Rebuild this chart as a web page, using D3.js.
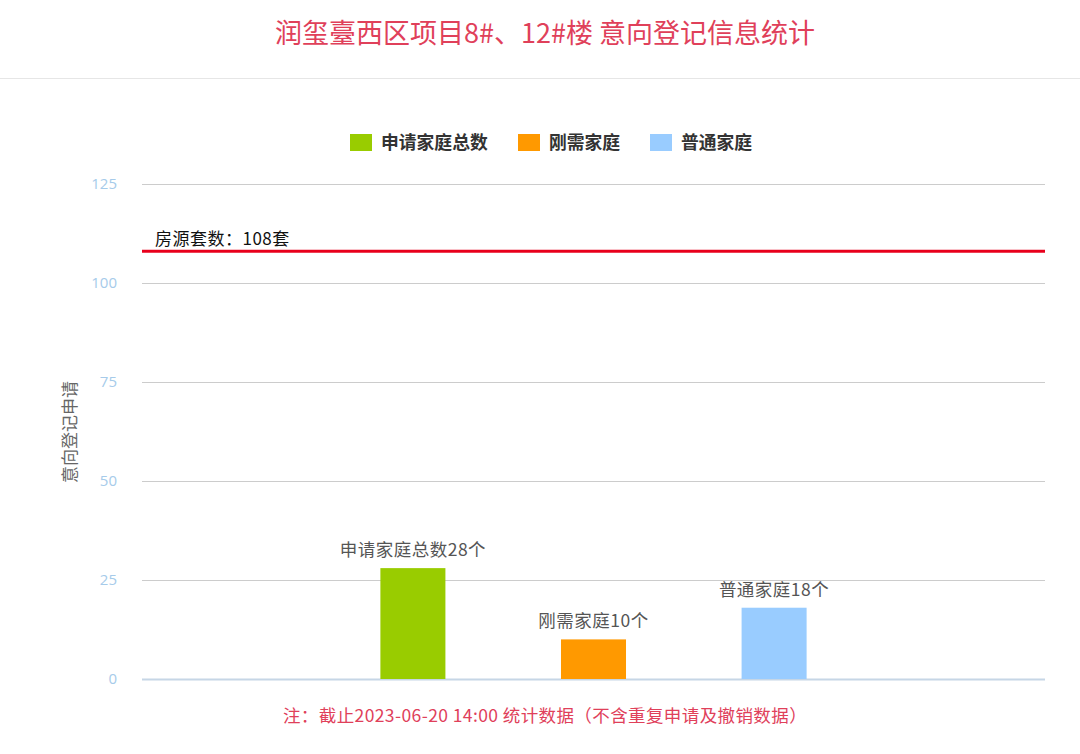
<!DOCTYPE html>
<html>
<head>
<meta charset="utf-8">
<script src="https://cdn.jsdelivr.net/npm/d3@7"></script>
<style>
  body { margin: 0; background: #fff; font-family: "Noto Sans CJK SC", "Microsoft YaHei", sans-serif; }
</style>
</head>
<body>
<div id="chart"></div>
<script>
// Chart data
const titleText = "润玺臺西区项目8#、12#楼 意向登记信息统计";
const noteText = "注：截止2023-06-20 14:00 统计数据（不含重复申请及撤销数据）";
const seriesNames = ["申请家庭总数", "刚需家庭", "普通家庭"];
const seriesValues = [28, 10, 18];
const seriesColors = ["#99cc00", "#ff9900", "#99ccff"];
const slots = [0, 1, 2, 3, 4];       // the bars sit in slots 1..3
const seriesSlots = [1, 2, 3];
const yTicks = [0, 25, 50, 75, 100, 125];
const supplyValue = 108;
const supplyLabel = "房源套数：108套";
const yTitle = "意向登记申请";

const W = 1080, H = 754;
const margin = { left: 142, right: 35, top: 184, bottom: 75 };

const svg = d3.select("#chart").append("svg")
    .attr("width", W).attr("height", H);

// Title + separator
svg.append("text")
    .attr("x", 545).attr("y", 43)
    .attr("text-anchor", "middle")
    .attr("fill", "#e0405a")
    .style("font-size", "27px")
    .text(titleText);

svg.append("line")
    .attr("x1", 0).attr("x2", W)
    .attr("y1", 78.5).attr("y2", 78.5)
    .attr("stroke", "#e6e6e6");

// Scales
const x = d3.scaleBand()
    .domain(slots)
    .range([margin.left, W - margin.right])
    .paddingInner(0.64)
    .paddingOuter(0.32);

const y = d3.scaleLinear()
    .domain([0, 125])
    .range([H - margin.bottom, margin.top]);

// Grid + y axis labels
const yAxis = svg.append("g")
    .attr("transform", `translate(${margin.left},0)`)
    .call(d3.axisLeft(y).tickValues(yTicks).tickSize(-(W - margin.left - margin.right)).tickPadding(25));

yAxis.select(".domain").remove();
yAxis.selectAll(".tick line")
    .attr("stroke", d => d === 0 ? "#c6d6e6" : "#cccccc")
    .attr("stroke-width", d => d === 0 ? 2 : 1);
yAxis.selectAll(".tick text")
    .attr("fill", "#a6cbea")
    .style("font-size", "15px")
    .style("font-family", "'Open Sans', 'Noto Sans', sans-serif");

// Y title
svg.append("text")
    .attr("transform", `translate(76,432) rotate(-90)`)
    .attr("text-anchor", "middle")
    .attr("fill", "#666")
    .style("font-size", "17px")
    .text(yTitle);

// Bars
const bars = seriesNames.map((name, i) => ({
    name, value: seriesValues[i], color: seriesColors[i], slot: seriesSlots[i]
}));

svg.selectAll("rect.bar")
    .data(bars)
    .enter().append("rect")
    .attr("class", "bar")
    .attr("x", d => x(d.slot))
    .attr("width", x.bandwidth())
    .attr("y", d => y(d.value))
    .attr("height", d => y(0) - y(d.value))
    .attr("fill", d => d.color);

svg.selectAll("text.barlabel")
    .data(bars)
    .enter().append("text")
    .attr("class", "barlabel")
    .attr("x", d => x(d.slot) + x.bandwidth() / 2)
    .attr("y", d => y(d.value) - 12)
    .attr("text-anchor", "middle")
    .attr("fill", "#555")
    .style("font-size", "17.5px")
    .style("letter-spacing", "0.5px")
    .text(d => d.name + d.value + "个");

// Supply line
svg.append("line")
    .attr("x1", margin.left).attr("x2", W - margin.right)
    .attr("y1", y(supplyValue)).attr("y2", y(supplyValue))
    .attr("stroke", "#e8001c")
    .attr("stroke-width", 3);

svg.append("text")
    .attr("x", 155).attr("y", y(supplyValue) - 6)
    .attr("fill", "#111")
    .style("font-size", "17px")
    .style("letter-spacing", "0.5px")
    .text(supplyLabel);

// Legend
const legendX = [350, 518, 650];
const legend = svg.selectAll("g.legend")
    .data(bars)
    .enter().append("g")
    .attr("class", "legend")
    .attr("transform", (d, i) => `translate(${legendX[i]},134)`);

legend.append("rect")
    .attr("width", 22).attr("height", 17)
    .attr("fill", d => d.color);

legend.append("text")
    .attr("x", 31).attr("y", 15)
    .attr("fill", "#333")
    .style("font-size", "17.8px")
    .style("font-weight", "bold")
    .text(d => d.name);

// Footnote
svg.append("text")
    .attr("x", 545).attr("y", 722)
    .attr("text-anchor", "middle")
    .attr("fill", "#e0405a")
    .style("font-size", "17.5px")
    .style("letter-spacing", "0.4px")
    .text(noteText);
</script>
</body>
</html>
